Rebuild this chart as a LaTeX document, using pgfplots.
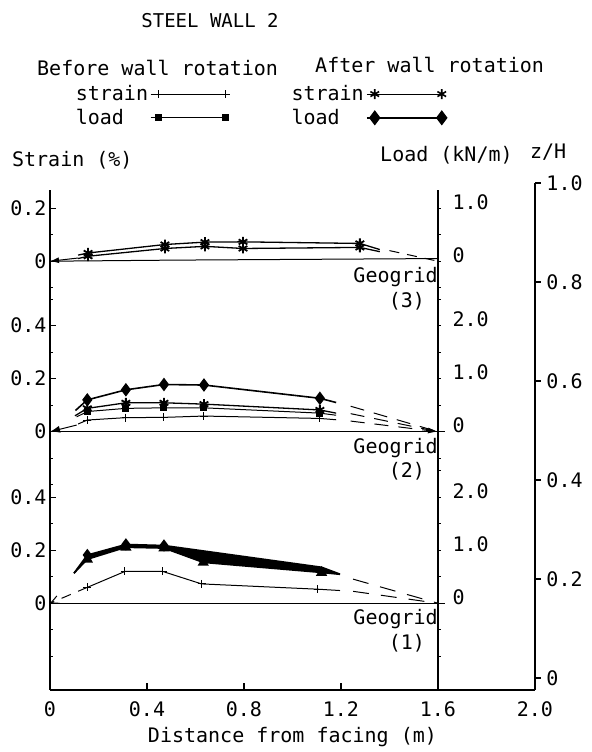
\documentclass[border=0pt]{standalone}
\usepackage{fontspec}
\setmainfont{DejaVu Sans Mono}
\usepackage{pgfplots}
\pgfplotsset{compat=1.18}
\usepgfplotslibrary{fillbetween}
\usetikzlibrary{arrows.meta}
\def\zA{0.151}
\def\zB{0.4976}
\def\zC{0.842}
\def\ks{0.5354}
\def\kl{0.1071}
\begin{document}
\begin{tikzpicture}[font=\fontsize{20}{22}\selectfont]
\pgfplotsset{base/.style={scale only axis, at={(0,0)}, anchor=south west, xmin=0, ymin=-0.024,
  /pgf/number format/assume math mode=true, clip=false,
  tick style={black, line width=1.2pt}, axis line style={line width=1.3pt},
  tick label style={font=\fontsize{20}{22}\selectfont}}}
% ---------- main axis (left strain axis, data) ----------
\begin{axis}[base, width=485pt, height=499.5pt, xmax=2, ymax=0.985,
  axis x line=none, axis y line*=left, tick align=inside,
  major tick length=6pt, minor tick length=3pt,
  ytick={0.151,0.2581,0.3652,0.4976,0.6047,0.7118,0.842,0.949},
  yticklabels={0,0.2,0.4,0,0.2,0.4,0,0.2},
  minor ytick={0.0439,0.0975,0.2046,0.3117,0.3905,0.4441,0.5512,0.6583,0.7654,0.7885,0.8955},
  legend columns=2, legend plot pos=right, legend cell align=left,
  legend style={at={(axis cs:0.085,1.205)}, anchor=north west, draw=none, fill=none,
    font=\fontsize{20}{22}\selectfont, row sep=3pt,
    /tikz/every even column/.append style={column sep=60pt}},
  legend image code/.code={\path (0pt,0pt) -- (8pt,0pt); \draw[#1] plot coordinates {(8pt,0pt) (75pt,0pt)};},
]
\addlegendimage{line width=1pt, mark=+, mark size=4pt}
\addlegendentry{strain}
\addlegendimage{line width=1pt, mark=asterisk, mark size=5pt, mark options={line width=1.6pt}}
\addlegendentry{strain}
\addlegendimage{line width=1pt, mark=square*, mark size=3pt}
\addlegendentry{load}
\addlegendimage{line width=2pt, mark=diamond*, mark size=6pt}
\addlegendentry{load}

% bottom x axis line and ticks
\draw[line width=1.3pt] (axis cs:0,-0.024) -- (axis cs:2,-0.024);
\pgfplotsinvokeforeach{0,0.4,0.8,1.2,1.6,2.0}{
  \draw[line width=1.2pt] (axis cs:#1,-0.024) -- ++(0pt,7pt);
}

% ===== Geogrid (3) =====
\addplot[forget plot, line width=1pt] table[y expr=\zC+\ks*\thisrow{v}] {
x v
0.000 0.000
0.500 0.004
1.600 0.010
};
\addplot[forget plot, line width=1.3pt, mark=asterisk, mark size=5pt, mark options={line width=1.8pt}, mark indices={2,3,4,5,6}] table[y expr=\zC+\ks*\thisrow{v}] {
x v
0.116 0.023
0.157 0.031
0.474 0.063
0.639 0.072
0.796 0.073
1.278 0.067
1.360 0.044
};
\addplot[forget plot, line width=1.3pt, mark=asterisk, mark size=5pt, mark options={line width=1.8pt}, mark indices={2,3,4,5,6}] table[y expr=\zC+\kl*\thisrow{v}] {
x v
0.116 0.05
0.157 0.094
0.474 0.24
0.639 0.28
0.796 0.24
1.278 0.26
1.360 0.18
};
\addplot[forget plot, line width=1pt, dash pattern=on 10pt off 8pt] table[y expr=\zC+\ks*\thisrow{v}] {
x v
1.400 0.040
1.600 0.000
};
\addplot[forget plot, line width=1pt, -{Latex[length=9pt,width=6pt]}] table[y expr=\zC+\ks*\thisrow{v}] {
x v
0.116 0.012
0.000 0.000
};

% ===== Geogrid (2) =====
\addplot[forget plot, line width=1pt] table[y expr=\zB+\ks*\thisrow{v}] {
x v
0.000 0.000
1.630 0.000
};
\addplot[forget plot, line width=1.6pt, mark=diamond*, mark size=6pt, mark options={line width=1pt}, mark indices={2,3,4,5,6}] table[y expr=\zB+\kl*\thisrow{v}] {
x v
0.105 0.40
0.154 0.60
0.313 0.79
0.470 0.89
0.635 0.88
1.113 0.63
1.180 0.55
};
\addplot[forget plot, line width=1.3pt, mark=asterisk, mark size=5pt, mark options={line width=1.8pt}, mark indices={2,3,4,5,6}] table[y expr=\zB+\ks*\thisrow{v}] {
x v
0.103 0.060
0.154 0.088
0.313 0.109
0.470 0.109
0.635 0.104
1.113 0.082
1.180 0.070
};
\addplot[forget plot, line width=1pt, mark=square*, mark size=3pt, mark indices={2,3,4,5,6}] table[y expr=\zB+\kl*\thisrow{v}] {
x v
0.110 0.28
0.154 0.38
0.313 0.44
0.470 0.45
0.635 0.45
1.113 0.35
1.180 0.31
};
\addplot[forget plot, line width=1pt, mark=+, mark size=4pt, mark indices={2,3,4,5,6}] table[y expr=\zB+\ks*\thisrow{v}] {
x v
0.116 0.029
0.154 0.044
0.313 0.053
0.470 0.054
0.635 0.059
1.113 0.050
1.180 0.045
};
\addplot[forget plot, line width=1pt, dash pattern=on 14pt off 10pt] table[y expr=\zB+\kl*\thisrow{v}] {
x v
1.240 0.48
1.600 0.00
};
\addplot[forget plot, line width=1pt, dash pattern=on 14pt off 10pt] table[y expr=\zB+\ks*\thisrow{v}] {
x v
1.240 0.068
1.600 0.000
};
\addplot[forget plot, line width=1pt, dash pattern=on 14pt off 10pt, -{Latex[length=10pt,width=6pt]}] table[y expr=\zB+\ks*\thisrow{v}] {
x v
1.240 0.040
1.600 0.000
};
\addplot[forget plot, line width=1pt, -{Latex[length=10pt,width=7pt]}] table[y expr=\zB+\ks*\thisrow{v}] {
x v
0.110 0.025
0.000 0.000
};

% ===== Geogrid (1) =====
\addplot[forget plot, line width=1pt] table[y expr=\zA+\ks*\thisrow{v}] {
x v
0.000 0.000
1.630 0.000
};
\addplot[forget plot, line width=1.5pt, name path=top1, mark=diamond*, mark size=5pt, mark indices={2,3,4}] table[y expr=\zA+\kl*\thisrow{v}] {
x v
0.099 0.57
0.154 0.91
0.313 1.11
0.470 1.09
1.120 0.68
1.196 0.55
};
\addplot[forget plot, line width=1.5pt, name path=bot1, mark=triangle*, mark size=5pt, mark indices={2,3,4,5,6}] table[y expr=\zA+\ks*\thisrow{v}] {
x v
0.099 0.113
0.154 0.166
0.313 0.211
0.470 0.208
0.632 0.154
1.120 0.116
1.196 0.109
};
\addplot[forget plot, black] fill between[of=top1 and bot1];
\addplot[forget plot, line width=1pt, mark=+, mark size=4pt, mark indices={1,2,3,4,5}] table[y expr=\zA+\ks*\thisrow{v}] {
x v
0.154 0.060
0.309 0.120
0.465 0.120
0.625 0.073
1.105 0.053
1.196 0.048
};
\addplot[forget plot, line width=1pt, dash pattern=on 10pt off 8pt, -{Straight Barb[length=8pt,width=8pt]}] table[y expr=\zA+\ks*\thisrow{v}] {
x v
0.154 0.060
0.000 0.000
};
\addplot[forget plot, line width=1pt, dash pattern=on 16pt off 12pt] table[y expr=\zA+\ks*\thisrow{v}] {
x v
1.250 0.091
1.600 0.000
};
\addplot[forget plot, line width=1pt, dash pattern=on 16pt off 12pt] table[y expr=\zA+\ks*\thisrow{v}] {
x v
1.250 0.045
1.600 0.000
};

% ===== texts =====
\node[anchor=north east, inner sep=0pt] at (axis cs:1.6,\zC-0.012) {Geogrid};
\node[anchor=north, inner sep=0pt] at (axis cs:1.472,\zC-0.062) {(3)};
\node[anchor=north east, inner sep=0pt] at (axis cs:1.6,\zB-0.012) {Geogrid};
\node[anchor=north, inner sep=0pt] at (axis cs:1.472,\zB-0.062) {(2)};
\node[anchor=north east, inner sep=0pt] at (axis cs:1.6,\zA-0.012) {Geogrid};
\node[anchor=north, inner sep=0pt] at (axis cs:1.472,\zA-0.062) {(1)};
\node[anchor=west, inner sep=0pt] at (axis cs:-0.157,1.046) {Strain (\%)};
\node[anchor=west, inner sep=0pt] at (axis cs:1.361,1.057) {Load (kN/m)};
\node[anchor=west, inner sep=0pt] at (axis cs:1.979,1.063) {z/H};
\node[inner sep=0pt, font=\fontsize{19}{21}\selectfont] at (axis cs:0.66,1.329) {STEEL WALL 2};
\node[anchor=west, inner sep=0pt] at (axis cs:-0.0536,1.232) {Before wall rotation};
\node[anchor=west, inner sep=0pt] at (axis cs:1.093,1.238) {After wall rotation};
\path (axis cs:-0.2062,-0.1495) rectangle (axis cs:2.235,1.3697);
\end{axis}
% ---------- bottom x axis labels ----------
\begin{axis}[base, width=485pt, height=499.5pt, xmax=2, ymax=0.985,
  axis x line*=bottom, axis y line=none, tick align=inside,
  major tick length=7pt,
  xtick={0,0.4,0.8,1.2,1.6,2.0}, xticklabels={0,0.4,0.8,1.2,1.6,2.0},
  xticklabel shift=8pt,
  xlabel={Distance from facing (m)},
  xlabel style={yshift=-4pt},
]
\end{axis}
% ---------- load axis at x = 1.6 ----------
\begin{axis}[base, width=388pt, height=499.5pt, xmax=1.6, ymax=0.985,
  axis x line=none, axis y line*=right, tick align=outside,
  major tick length=3pt, minor tick length=3pt,
  ytick={0.151,0.2581,0.3652,0.4976,0.6047,0.7118,0.842,0.949},
  yticklabels={0,1.0,2.0,0,1.0,2.0,0,1.0},
  yticklabel style={xshift=8pt, yshift=6pt},
  minor ytick={0.0439,0.0975,0.2046,0.3117,0.4188,0.4441,0.5512,0.6583,0.7654,0.7885,0.8955},
]
\end{axis}
% ---------- z/H axis at x = 2.0 ----------
\begin{axis}[base, width=485pt, height=506.9pt, xmax=2, ymax=1.0,
  axis x line=none, axis y line*=right, tick align=outside,
  major tick length=6pt,
  ytick={0,0.2,0.4,0.6,0.8,1.0}, yticklabels={0,0.2,0.4,0.6,0.8,1.0},
  yticklabel style={xshift=2pt},
]
\end{axis}
\end{tikzpicture}
\end{document}
